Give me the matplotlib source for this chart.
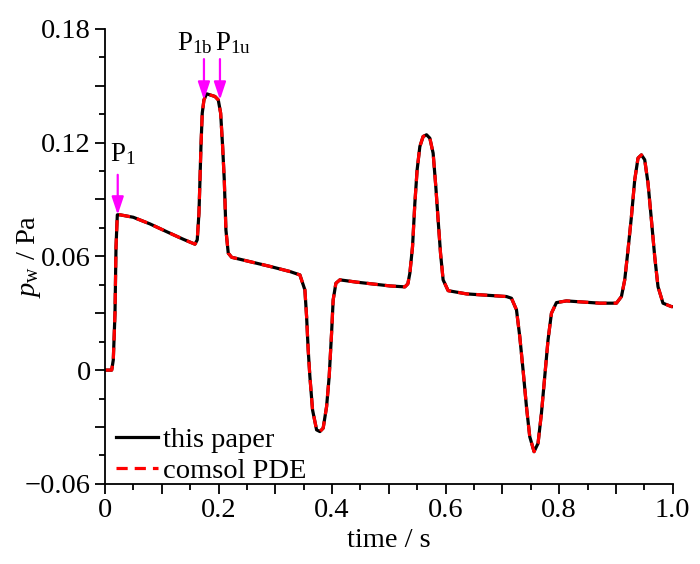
import numpy as np
import matplotlib
matplotlib.use("Agg")
import matplotlib.pyplot as plt
from matplotlib.ticker import MultipleLocator, FuncFormatter

plt.rcParams['font.family'] = ['Liberation Serif', 'DejaVu Serif']
plt.rcParams['mathtext.fontset'] = 'custom'
plt.rcParams['mathtext.rm'] = 'Liberation Serif'
plt.rcParams['mathtext.it'] = 'Liberation Serif:italic'

# time (s) and well pressure (Pa)
time = [0.000, 0.0118, 0.0146, 0.0176, 0.0194, 0.0217, 0.0264, 0.0498, 0.0792, 0.1086,
        0.1379, 0.1585, 0.1625, 0.1655, 0.1673, 0.1690, 0.1713, 0.1743, 0.1790, 0.1937,
        0.1995, 0.2037, 0.2072, 0.2101, 0.2130, 0.2171, 0.2231, 0.2553, 0.2905, 0.3257,
        0.3433, 0.3521, 0.3551, 0.3579, 0.3609, 0.3656, 0.3727, 0.3785, 0.3843, 0.3903,
        0.3949, 0.3991, 0.4019, 0.4067, 0.4137, 0.4431, 0.5018, 0.5282, 0.5335, 0.5370,
        0.5417, 0.5458, 0.5498, 0.5546, 0.5604, 0.5664, 0.5722, 0.5780, 0.5827, 0.5868,
        0.5910, 0.5956, 0.6044, 0.6368, 0.7072, 0.7160, 0.7248, 0.7306, 0.7364, 0.7424,
        0.7482, 0.7558, 0.7628, 0.7688, 0.7746, 0.7804, 0.7864, 0.7952, 0.8128, 0.8715,
        0.9009, 0.9097, 0.9155, 0.9213, 0.9273, 0.9331, 0.9389, 0.9449, 0.9507, 0.9565,
        0.9625, 0.9683, 0.9741, 0.9829, 0.9977, 1.0000]
p_paper = [0.0000, 0.0000, 0.0054, 0.0300, 0.0651, 0.0819, 0.0819, 0.0806, 0.0771, 0.0730,
           0.0690, 0.0664, 0.0687, 0.0828, 0.1003, 0.1179, 0.1355, 0.1425, 0.1457, 0.1443,
           0.1425, 0.1355, 0.1179, 0.1003, 0.0739, 0.0617, 0.0595, 0.0572, 0.0547, 0.0520,
           0.0502, 0.0423, 0.0282, 0.0107, -0.0034, -0.0210, -0.0315, -0.0324, -0.0306, -0.0193,
           -0.0034, 0.0195, 0.0370, 0.0458, 0.0476, 0.0464, 0.0444, 0.0439, 0.0455, 0.0511,
           0.0651, 0.0880, 0.1056, 0.1179, 0.1232, 0.1241, 0.1223, 0.1144, 0.0968, 0.0792,
           0.0617, 0.0476, 0.0419, 0.0402, 0.0388, 0.0379, 0.0318, 0.0177, 0.0001, -0.0193,
           -0.0351, -0.0430, -0.0386, -0.0227, -0.0034, 0.0159, 0.0300, 0.0356, 0.0365, 0.0353,
           0.0353, 0.0388, 0.0476, 0.0634, 0.0810, 0.1003, 0.1118, 0.1135, 0.1109, 0.0986,
           0.0792, 0.0599, 0.0440, 0.0353, 0.0335, 0.0335]
# comsol result lies on top of the paper curve
p_comsol = list(p_paper)

fig = plt.figure(figsize=(7.0, 5.64), dpi=100)
ax = fig.add_axes([0.15, 0.142, 0.811, 0.807])

ax.plot(time, p_paper, color='black', lw=2.3, label='this paper',
        solid_joinstyle='round')
ax.plot(time, p_comsol, color='#ff0000', lw=2.3, ls=(0, (3.5, 2.2)), label='comsol PDE',
        dash_joinstyle='round')

ax.set_xlim(0, 1.0)
ax.set_ylim(-0.06, 0.18)
ax.xaxis.set_major_locator(MultipleLocator(0.1))
ax.xaxis.set_minor_locator(MultipleLocator(0.05))
ax.yaxis.set_major_locator(MultipleLocator(0.03))
ax.yaxis.set_minor_locator(MultipleLocator(0.015))

def xfmt(v, pos):
    k = int(round(v * 10))
    if k % 2:
        return ''
    return '0' if k == 0 else ('1.0' if k == 10 else '%.1f' % v)

def yfmt(v, pos):
    k = int(round(v / 0.03))
    if k % 2:
        return ''
    return '0' if k == 0 else ('%.2f' % v).replace('-', '\u2212')

ax.xaxis.set_major_formatter(FuncFormatter(xfmt))
ax.yaxis.set_major_formatter(FuncFormatter(yfmt))

for s in ['top', 'right']:
    ax.spines[s].set_visible(False)
for s in ['left', 'bottom']:
    ax.spines[s].set_linewidth(1.3)
ax.tick_params(which='major', direction='out', length=7, width=1.3, labelsize=20.5, pad=3)
ax.tick_params(which='minor', direction='out', length=4, width=1.3)

ax.set_xlabel('time / s', fontsize=20.5, labelpad=4)
ax.set_ylabel(r'$p_{\mathrm{w}}$ / Pa', fontsize=20.5)
ax.yaxis.set_label_coords(-0.11, 0.5)

# markers for the characteristic points
arrow = dict(arrowstyle='-|>,head_length=0.6,head_width=0.2', color='#ff00ff', lw=1.6,
             shrinkA=0, shrinkB=0, mutation_scale=18)
ax.annotate('', xy=(0.0224, 0.0819), xytext=(0.0224, 0.103), arrowprops=arrow)
ax.annotate('', xy=(0.1743, 0.1425), xytext=(0.1743, 0.164), arrowprops=arrow)
ax.annotate('', xy=(0.2025, 0.1425), xytext=(0.2025, 0.164), arrowprops=arrow)
ax.text(0.009, 0.110, r'P$_{\mathregular{1}}$', fontsize=19.5, va='baseline')
ax.text(0.126, 0.169, r'P$_{\mathregular{1b}}$', fontsize=19.5, va='baseline')
ax.text(0.194, 0.169, r'P$_{\mathregular{1u}}$', fontsize=19.5, va='baseline')

ax.legend(loc='lower left', frameon=False, fontsize=20.5, handlelength=1.45,
          handletextpad=0.2, labelspacing=0.18, borderaxespad=0.0,
          bbox_to_anchor=(0.0, -0.025))

fig.savefig('out.png', dpi=100)
